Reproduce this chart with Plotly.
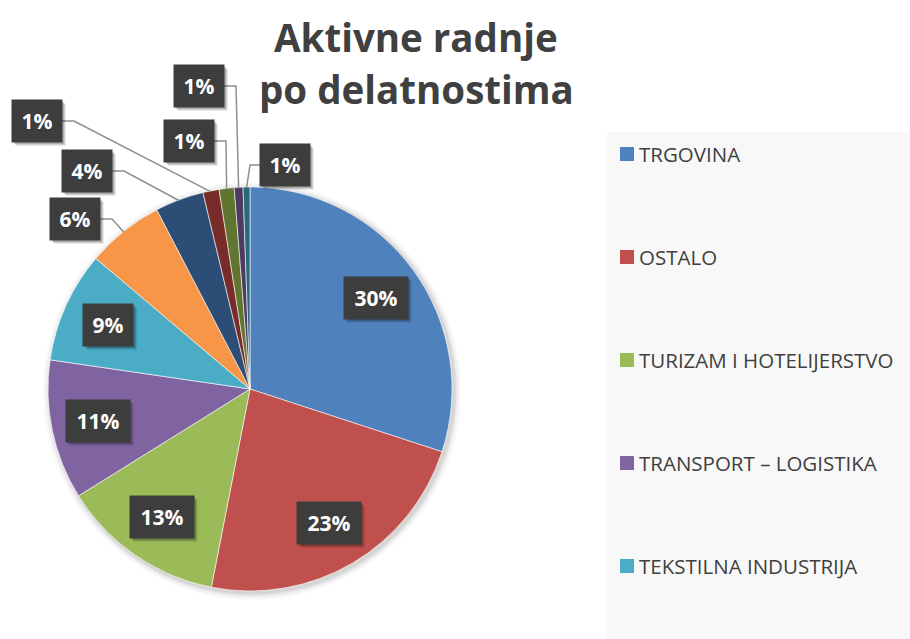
import math
import plotly.graph_objects as go

# --- data -------------------------------------------------------------
categories = [
    "TRGOVINA",
    "OSTALO",
    "TURIZAM I HOTELIJERSTVO",
    "TRANSPORT – LOGISTIKA",
    "TEKSTILNA INDUSTRIJA",
    "GRAĐEVINARSTVO",
    "POLJOPRIVREDA",
    "ZANATSTVO",
    "IT USLUGE",
    "FINANSIJE",
    "OBRAZOVANJE",
]
shares = [30.1, 23.1, 13.1, 11.2, 8.9, 6.2, 3.9, 1.3, 1.2, 0.7, 0.55]
legend_count = 5  # entries that fit in the legend panel
title_lines = ["Aktivne radnje", "po delatnostima"]

# --- style ------------------------------------------------------------
colors = ["#4F81BD", "#C0504D", "#9BBB59", "#8064A2", "#4BACC6", "#F79646",
          "#2C4D75", "#772C2A", "#5F7530", "#4D3B62", "#276A7C"]
W, H = 910, 639
CX, CY, R = 250, 389, 202          # pie centre and radius in pixels
TEXT = "#404040"
LEADER = "#8f8f8f"
BOX = "#3d3d3d"

# label boxes outside the pie: centre (px) and which edge the leader leaves from
outside = {
    5: ((75, 219), "right"),
    6: ((87, 171), "right"),
    7: ((37, 121), "right"),
    8: ((189, 141), "right"),
    9: ((199, 86), "right"),
    10: ((285, 165), "left"),
}


def px(x):
    return x / W


def py(y):
    return 1 - y / H


fig = go.Figure()
fig.add_trace(go.Pie(
    labels=categories,
    values=shares,
    sort=False,
    direction="clockwise",
    rotation=0,
    marker=dict(colors=colors, line=dict(color="white", width=0.6)),
    textinfo="none",
    hovertemplate="%{label}: %{percent}<extra></extra>",
    domain=dict(x=[px(CX - R), px(CX + R)], y=[py(CY + R), py(CY - R)]),
    showlegend=False,
))

shapes = []
annotations = []

# soft shadow around the pie
for k, a in [(7, 0.025), (5, 0.035), (3, 0.05), (1.5, 0.06)]:
    shapes.append(dict(type="circle", xref="paper", yref="paper", layer="below",
                       x0=px(CX + 2 - R - k), x1=px(CX + 2 + R + k),
                       y0=py(CY + 2 + R + k), y1=py(CY + 2 - R - k),
                       fillcolor=f"rgba(0,0,0,{a})", line=dict(width=0)))

total = sum(shares)
cum = 0.0
for i, v in enumerate(shares):
    mid = 2 * math.pi * (cum + v / 2) / total
    cum += v
    label = f"{int(v / total * 100 + 0.5)}%"
    bw = 64 if len(label) > 2 else 50
    bh = 42
    if i in outside:
        (lx, ly), side = outside[i]
        ax = CX + R * math.sin(mid)
        ay = CY - R * math.cos(mid)
        if side == "right":
            sx = lx + bw / 2
            ex = sx + 12
        else:
            sx = lx - bw / 2
            ex = sx - 10
        path = (f"M {px(sx)},{py(ly)} L {px(ex)},{py(ly)} "
                f"L {px(ax)},{py(ay + 1)}")
        shapes.append(dict(type="path", xref="paper", yref="paper", path=path,
                           line=dict(color=LEADER, width=1.5)))
    else:
        lx = CX + 0.77 * R * math.sin(mid)
        ly = CY - 0.77 * R * math.cos(mid)
    # drop shadow under the label box
    for s, a in [(4, 0.08), (3, 0.12), (2, 0.16)]:
        shapes.append(dict(type="rect", xref="paper", yref="paper",
                           x0=px(lx - bw / 2 + s), x1=px(lx + bw / 2 + s),
                           y0=py(ly + bh / 2 + s), y1=py(ly - bh / 2 + s),
                           fillcolor=f"rgba(0,0,0,{a})", line=dict(width=0)))
    annotations.append(dict(x=px(lx), y=py(ly), xref="paper", yref="paper",
                            xanchor="center", yanchor="middle",
                            text=label, showarrow=False, width=bw, height=bh,
                            borderpad=0, bgcolor=BOX,
                            font=dict(color="white", size=21, family="Open Sans",
                                      weight="bold")))

# title
for txt, yc in zip(title_lines, [37, 89]):
    annotations.append(dict(x=px(416), y=py(yc), xref="paper", yref="paper",
                            text=txt, showarrow=False, xanchor="center",
                            yanchor="middle",
                            font=dict(color=TEXT, size=38.5, family="Open Sans",
                                      weight="bold")))

# legend panel
shapes.append(dict(type="rect", xref="paper", yref="paper", layer="below",
                   x0=px(607), x1=px(910), y0=py(639), y1=py(132),
                   fillcolor="#f8f8f8", line=dict(width=0)))
for j in range(legend_count):
    yc = 154 + 103 * j
    shapes.append(dict(type="rect", xref="paper", yref="paper",
                       x0=px(620), x1=px(634), y0=py(yc + 7), y1=py(yc - 7),
                       fillcolor=colors[j], line=dict(width=0)))
    annotations.append(dict(x=px(637), y=py(yc), xref="paper", yref="paper",
                            text=categories[j], showarrow=False,
                            xanchor="left", yanchor="middle",
                            font=dict(color=TEXT, size=20.5, family="Open Sans")))

fig.update_layout(
    width=W, height=H, autosize=False,
    margin=dict(l=0, r=0, t=0, b=0),
    paper_bgcolor="white", plot_bgcolor="white",
    shapes=shapes, annotations=annotations,
)

fig.write_html("out.html")
